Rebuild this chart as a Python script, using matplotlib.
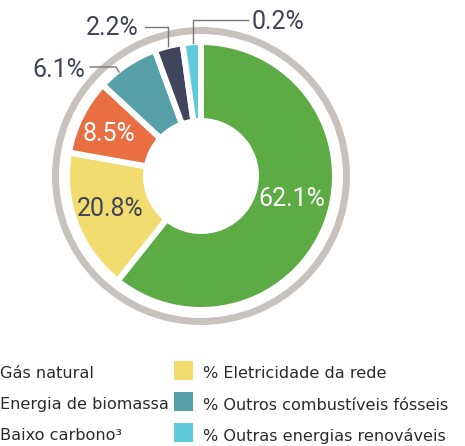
import matplotlib.pyplot as plt
import matplotlib
from matplotlib.patches import Wedge, Rectangle

matplotlib.rcParams['font.family'] = ['Roboto', 'DejaVu Sans']

# data
# printed labels and the share of the ring each arc takes in the picture
# (the artwork is not drawn to scale, so the arcs are read separately)
labels_pct = ['62.1%', '20.8%', '8.5%', '6.1%', '2.2%', '0.2%']
arc_share = [60.7, 17.1, 9.1, 7.5, 3.4, 2.2]
colors = ['#5dab45', '#f2dc6f', '#e96f42', '#57a0a7', '#41455b', '#60cadd']

legend_left = ['Gás natural', 'Energia de biomassa', 'Baixo carbono³']
legend_left_colors = ['#5dab45', '#e96f42', '#41455b']
legend_right = ['% Eletricidade da rede', '% Outros combustíveis fósseis',
                '% Outras energias renováveis']
legend_right_colors = ['#f2dc6f', '#57a0a7', '#60cadd']

W, H = 465, 446
fig = plt.figure(figsize=(W / 100, H / 100), dpi=100)
ax = fig.add_axes([0, 0, 1, 1])

cx, cy = 201, H - 176
gap = 6  # white gap between slices, px
R, r = 131, 58

ax.pie(arc_share, colors=colors, startangle=90, counterclock=False,
       center=(cx, cy), radius=R + gap / 2,
       wedgeprops=dict(width=R - r + gap, edgecolor='white',
                       linewidth=gap * 0.72))

# grey outer ring
ax.add_patch(Wedge((cx, cy), 149, 0, 360, width=7, facecolor='#c8c2bf',
                   edgecolor='none'))

ax.set_xlim(0, W)
ax.set_ylim(0, H)
ax.set_aspect('equal')
ax.axis('off')

txt_dark = '#3f4258'
lbl_size = 18
# labels inside the slices
ax.text(292, H - 199, labels_pct[0], color='white', fontsize=lbl_size,
        ha='center', va='center')
ax.text(110, H - 209, labels_pct[1], color=txt_dark, fontsize=lbl_size,
        ha='center', va='center')
ax.text(109, H - 134, labels_pct[2], color='white', fontsize=lbl_size,
        ha='center', va='center')

# outside labels with leader lines
line_c = '#7d7272'
ax.text(85, H - 70, labels_pct[3], color=txt_dark, fontsize=lbl_size,
        ha='right', va='center')
ax.plot([90, 116, 119], [H - 67, H - 67, H - 72], color=line_c, lw=1)

ax.text(139, H - 28, labels_pct[4], color=txt_dark, fontsize=lbl_size,
        ha='right', va='center')
ax.plot([145, 168, 168], [H - 27, H - 27, H - 46], color=line_c, lw=1)

ax.text(252, H - 22, labels_pct[5], color=txt_dark, fontsize=lbl_size,
        ha='left', va='center')
ax.plot([248, 193, 193], [H - 20, H - 20, H - 43], color=line_c, lw=1)

# legend (left column swatches sit off the canvas like in the original)
leg_size = 11.6
leg_c = '#2b2b2b'
leg_font = ['DejaVu Sans']
rows = [H - 370, H - 401, H - 432]
for i in range(3):
    ax.add_patch(Rectangle((-30, rows[i] - 9.5), 20, 19,
                           facecolor=legend_left_colors[i], edgecolor='none',
                           clip_on=False))
    ax.text(0, rows[i] - 4, legend_left[i], color=leg_c, fontsize=leg_size,
            family=leg_font, ha='left', va='center')
    ax.add_patch(Rectangle((174, rows[i] - 9.5), 19, 19,
                           facecolor=legend_right_colors[i], edgecolor='none'))
    ax.text(203, rows[i] - 4, legend_right[i], color=leg_c, fontsize=leg_size,
            family=leg_font, ha='left', va='center')

fig.savefig('out.png', dpi=100)
